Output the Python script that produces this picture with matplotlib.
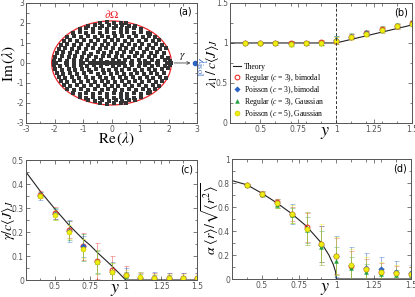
import numpy as np
import matplotlib
matplotlib.use('Agg')
import matplotlib.pyplot as plt
from matplotlib.patches import Circle
from matplotlib.ticker import MultipleLocator

plt.rcParams['font.family'] = ['DejaVu Sans']
plt.rcParams['mathtext.fontset'] = 'stix'
plt.rcParams['axes.unicode_minus'] = False

eig_upper = [
    (-2.03, 0.10), (-1.81, 0.15), (-1.57, 0.08), (-1.33, 0.14), (-1.08, 0.11), (-0.85, 0.16), (-0.61, 0.09),
    (-0.38, 0.13), (-0.17, 0.07), (0.06, 0.15), (0.27, 0.10), (0.49, 0.14), (0.72, 0.08), (0.95, 0.13),
    (1.18, 0.10), (1.42, 0.16), (1.64, 0.09), (1.86, 0.13), (2.04, 0.08),
    (-1.98, 0.30), (-1.74, 0.35), (-1.50, 0.28), (-1.27, 0.34), (-1.02, 0.31), (-0.79, 0.36), (-0.55, 0.29),
    (-0.31, 0.33), (-0.09, 0.37), (0.14, 0.30), (0.37, 0.35), (0.60, 0.28), (0.83, 0.33), (1.06, 0.36),
    (1.30, 0.29), (1.53, 0.34), (1.77, 0.31), (1.99, 0.27),
    (-1.93, 0.50), (-1.69, 0.55), (-1.44, 0.49), (-1.21, 0.56), (-0.97, 0.51), (-0.73, 0.47), (-0.49, 0.54),
    (-0.26, 0.50), (-0.02, 0.56), (0.21, 0.49), (0.44, 0.53), (0.68, 0.57), (0.91, 0.50), (1.14, 0.54),
    (1.38, 0.48), (1.61, 0.55), (1.85, 0.51),
    (-1.86, 0.70), (-1.62, 0.75), (-1.38, 0.69), (-1.14, 0.74), (-0.90, 0.71), (-0.66, 0.77), (-0.42, 0.68),
    (-0.19, 0.73), (0.05, 0.76), (0.29, 0.70), (0.52, 0.74), (0.76, 0.68), (0.99, 0.75), (1.23, 0.71),
    (1.47, 0.76), (1.70, 0.69), (1.90, 0.73),
    (-1.79, 0.90), (-1.55, 0.95), (-1.31, 0.89), (-1.07, 0.94), (-0.83, 0.91), (-0.59, 0.97), (-0.35, 0.88),
    (-0.11, 0.93), (0.13, 0.96), (0.37, 0.90), (0.60, 0.94), (0.84, 0.88), (1.08, 0.95), (1.32, 0.91),
    (1.56, 0.96), (1.78, 0.89),
    (-1.68, 1.10), (-1.44, 1.15), (-1.20, 1.09), (-0.96, 1.14), (-0.72, 1.11), (-0.48, 1.16), (-0.24, 1.08),
    (0.00, 1.13), (0.24, 1.16), (0.48, 1.10), (0.72, 1.14), (0.96, 1.08), (1.20, 1.15), (1.44, 1.11),
    (1.66, 1.14),
    (-1.55, 1.30), (-1.31, 1.35), (-1.07, 1.29), (-0.83, 1.34), (-0.59, 1.31), (-0.35, 1.36), (-0.11, 1.28),
    (0.13, 1.33), (0.37, 1.36), (0.61, 1.30), (0.85, 1.34), (1.09, 1.28), (1.33, 1.35), (1.54, 1.31),
    (-1.36, 1.50), (-1.12, 1.55), (-0.88, 1.49), (-0.64, 1.54), (-0.40, 1.51), (-0.16, 1.56), (0.08, 1.48),
    (0.32, 1.53), (0.56, 1.56), (0.80, 1.50), (1.04, 1.54), (1.28, 1.49), (1.36, 1.47),
    (-1.12, 1.70), (-0.88, 1.75), (-0.64, 1.69), (-0.40, 1.74), (-0.16, 1.71), (0.08, 1.76), (0.32, 1.68),
    (0.56, 1.73), (0.80, 1.76), (1.04, 1.70),
    (-0.82, 1.86), (-0.58, 1.90), (-0.34, 1.85), (-0.10, 1.91), (0.14, 1.87), (0.38, 1.92), (0.62, 1.86),
    (0.84, 1.84),
    (-0.40, 2.00), (-0.16, 2.04), (0.10, 1.99), (0.34, 2.02), (0.50, 1.98),
]
eig_real = [-1.95, -1.6, -1.3, -1.0, -0.75, -0.5, -0.38, -0.27, -0.18, -0.1, -0.03, 0.04, 0.11, 0.19,
            0.3, 0.45, 0.7, 1.0, 1.3, 1.6, 1.95, 2.08]
edge_radius = 2.1
lam_isol = 2.92

# panels (b)-(d)
y_vals = [0.4, 0.5, 0.6, 0.7, 0.8, 0.9, 1.0, 1.1, 1.2, 1.3, 1.4, 1.5]

theory_b_y = [0.3, 1.0, 1.5]
theory_b = [1.0, 1.0, 1.225]
theory_c_y = [0.3, 0.4, 0.5, 0.6, 0.7, 0.75, 0.8, 0.9, 1.0, 1.5]
theory_c = [0.45, 0.37, 0.298, 0.23, 0.17, 0.145, 0.115, 0.06, 0.0, 0.0]
theory_d_y = [0.3, 0.4, 0.5, 0.6, 0.7, 0.8, 0.9, 0.95, 0.98, 0.995, 1.0, 1.5]
theory_d = [0.82, 0.785, 0.715, 0.635, 0.545, 0.44, 0.30, 0.20, 0.12, 0.06, 0.0, 0.0]

b_rb = [1.0, 1.0, 1.0, 1.0, 1.0, 1.01, 1.03, 1.08, 1.12, 1.17, 1.21, 1.25]
b_pb = [1.0, 1.0, 1.0, 0.99, 1.0, 1.0, 1.04, 1.08, 1.12, 1.16, 1.21, 1.24]
b_rg = [1.0, 1.0, 1.0, 1.0, 1.0, 1.0, 1.05, 1.09, 1.13, 1.18, 1.22, 1.26]
b_pg = [1.0, 1.0, 1.0, 0.99, 1.0, 1.0, 1.03, 1.07, 1.11, 1.16, 1.21, 1.24]
b_err_rb = [0.01, 0.01, 0.02, 0.03, 0.03, 0.03, 0.04, 0.03, 0.03, 0.03, 0.03, 0.03]
b_err_pb = [0.01, 0.01, 0.02, 0.03, 0.03, 0.03, 0.05, 0.03, 0.03, 0.03, 0.03, 0.03]
b_err_rg = [0.01, 0.01, 0.02, 0.02, 0.03, 0.03, 0.04, 0.03, 0.03, 0.03, 0.03, 0.03]
b_err_pg = [0.01, 0.01, 0.03, 0.04, 0.03, 0.04, 0.04, 0.03, 0.03, 0.04, 0.03, 0.03]

c_rb = [0.355, 0.28, 0.21, 0.14, 0.08, 0.04, 0.02, 0.01, 0.008, 0.008, 0.008, 0.01]
c_pb = [0.35, 0.275, 0.205, 0.14, 0.075, 0.035, 0.02, 0.01, 0.008, 0.008, 0.008, 0.008]
c_rg = [0.355, 0.275, 0.205, 0.135, 0.075, 0.035, 0.015, 0.008, 0.006, 0.006, 0.006, 0.006]
c_pg = [0.35, 0.27, 0.2, 0.13, 0.075, 0.035, 0.02, 0.012, 0.01, 0.01, 0.01, 0.01]
c_err_rb = [0.015, 0.025, 0.035, 0.055, 0.075, 0.06, 0.04, 0.02, 0.02, 0.02, 0.02, 0.02]
c_err_pb = [0.015, 0.02, 0.045, 0.045, 0.05, 0.04, 0.03, 0.025, 0.025, 0.02, 0.02, 0.02]
c_err_rg = [0.01, 0.025, 0.04, 0.055, 0.045, 0.035, 0.02, 0.015, 0.015, 0.015, 0.01, 0.01]
c_err_pg = [0.01, 0.02, 0.03, 0.04, 0.05, 0.035, 0.02, 0.02, 0.015, 0.015, 0.015, 0.015]

d_rb = [0.78, 0.71, 0.64, 0.54, 0.43, 0.29, 0.19, 0.11, 0.08, 0.06, 0.05, 0.04]
d_pb = [0.78, 0.71, 0.63, 0.54, 0.42, 0.28, 0.19, 0.12, 0.09, 0.08, 0.06, 0.05]
d_rg = [0.78, 0.705, 0.62, 0.53, 0.41, 0.27, 0.15, 0.09, 0.055, 0.045, 0.035, 0.03]
d_pg = [0.78, 0.71, 0.63, 0.54, 0.42, 0.29, 0.19, 0.12, 0.08, 0.06, 0.05, 0.04]
d_err_rb = [0.01, 0.02, 0.03, 0.06, 0.12, 0.15, 0.15, 0.12, 0.09, 0.07, 0.06, 0.06]
d_err_pb = [0.01, 0.02, 0.04, 0.085, 0.14, 0.16, 0.17, 0.15, 0.13, 0.1, 0.09, 0.07]
d_err_rg = [0.01, 0.02, 0.03, 0.06, 0.11, 0.13, 0.12, 0.09, 0.07, 0.05, 0.04, 0.04]
d_err_pg = [0.01, 0.02, 0.04, 0.075, 0.14, 0.17, 0.16, 0.13, 0.1, 0.08, 0.07, 0.06]

series_labels = ['Regular ($c$ = 3), bimodal', 'Poisson ($c$ = 3), bimodal',
                 'Regular ($c$ = 3), Gaussian', 'Poisson ($c$ = 5), Gaussian']
colors = ['#e8302a', '#2a63c4', '#1f9e3c', '#eeee10']
markers = ['o', 'D', '^', 'o']

tick_col = '#555555'

fig = plt.figure(figsize=(4.15, 2.97), dpi=100)
ax_a = fig.add_axes([0.0627, 0.586, 0.412, 0.404])
ax_b = fig.add_axes([0.554, 0.586, 0.4386, 0.404])
ax_c = fig.add_axes([0.0627, 0.0572, 0.412, 0.404])
ax_d = fig.add_axes([0.559, 0.0606, 0.431, 0.404])


def style(ax):
    ax.tick_params(which='both', direction='in', top=True, right=True, labelsize=5.5,
                   labelcolor=tick_col, color='#666666', width=0.6, pad=1.5)
    ax.tick_params(which='major', length=3)
    ax.tick_params(which='minor', length=1.8)
    for s in ax.spines.values():
        s.set_color('#555555')
        s.set_linewidth(0.7)


def place_ylabel(ax, text, xfrac, size=10):
    ax.set_ylabel(text, fontsize=size)
    ax.yaxis.set_label_coords(xfrac, 0.5)
    ax.yaxis.label.set_verticalalignment('center')


# (a)
re_up = np.array([p[0] for p in eig_upper])
im_up = np.array([p[1] for p in eig_upper])
re_all = np.concatenate([re_up, re_up, eig_real])
im_all = np.concatenate([im_up, -im_up, np.zeros(len(eig_real))])
ax_a.plot(re_all, im_all, 's', color='#333333', ms=2.3, mew=0)
ax_a.add_patch(Circle((0, 0), edge_radius, fill=False, ec='#e8252a', lw=0.9))
ax_a.annotate('', xy=(lam_isol - 0.05, 0), xytext=(edge_radius, 0),
              arrowprops=dict(arrowstyle='->', color='#444444', lw=0.6, mutation_scale=5))
ax_a.plot([lam_isol], [0], 'o', color='#2a63c4', ms=3.0)
ax_a.text(2.5, 0.3, r'$\gamma$', fontsize=8, ha='center', va='center')
ax_a.text(3.14, -0.2, r'$\lambda_{\rm isol}$', fontsize=8.5, color='#2a63c4', rotation=-90,
          ha='center', va='center')
ax_a.text(0.0, 2.45, r'$\partial\Omega$', fontsize=8, color='#e8252a', ha='center', va='center')
ax_a.text(0.93, 0.93, '(a)', transform=ax_a.transAxes, fontsize=7, ha='center', va='center')
ax_a.set_xlim(-3, 3)
ax_a.set_ylim(-3, 3)
ax_a.set_xticks(range(-3, 4))
ax_a.set_yticks(range(-3, 4))
ax_a.xaxis.set_minor_locator(MultipleLocator(0.5))
ax_a.yaxis.set_minor_locator(MultipleLocator(0.5))
ax_a.set_xlabel(r'$\mathrm{Re}\,(\lambda)$', fontsize=11)
ax_a.xaxis.set_label_coords(0.53, -0.06)
place_ylabel(ax_a, r'$\mathrm{Im}\,(\lambda)$', -0.1, 11)
style(ax_a)


def data_panel(ax, ty, tv, vals, errs, ylim, ymaj, ymin, ylabel, lab_x, tag, ylabels):
    th, = ax.plot(ty, tv, '-', color='#222222', lw=0.8)
    handles = [th]
    for v, e, c in zip(vals, errs, colors):
        ax.errorbar(y_vals, v, yerr=e, fmt='none', ecolor=c, alpha=0.45, capsize=1.8,
                    elinewidth=0.7, capthick=0.6)
    for i, (v, c, m) in enumerate(zip(vals, colors, markers)):
        if i == 0:
            h, = ax.plot(y_vals, v, m, ms=3.4, mfc='none', mec=c, mew=0.8, ls='none')
        elif i == 3:
            h, = ax.plot(y_vals, v, m, ms=3.6, mfc=c, mec='#c8c000', mew=0.4, ls='none')
        else:
            h, = ax.plot(y_vals, v, m, ms=2.8, mfc=c, mec=c, mew=0.3, ls='none')
        handles.append(h)
    ax.set_xlim(0.3, 1.5)
    ax.set_ylim(*ylim)
    ax.set_xticks([0.5, 0.75, 1.0, 1.25, 1.5])
    ax.set_xticklabels(['0.5', '0.75', '1', '1.25', '1.5'])
    ax.xaxis.set_minor_locator(MultipleLocator(0.1))
    ax.set_yticks(ymaj)
    ax.set_yticklabels(ylabels)
    ax.yaxis.set_minor_locator(MultipleLocator(ymin))
    place_ylabel(ax, ylabel, lab_x)
    ax.text(0.52, -0.075, r'$y$', transform=ax.transAxes, fontsize=13, ha='center', va='center')
    ax.text(0.94, 0.92, tag, transform=ax.transAxes, fontsize=7, ha='center', va='center')
    style(ax)
    return handles


hb = data_panel(ax_b, theory_b_y, theory_b, [b_rb, b_pb, b_rg, b_pg],
                [b_err_rb, b_err_pb, b_err_rg, b_err_pg], (0, 1.5), [0, 0.5, 1.0, 1.5], 0.25,
                r'$\lambda_1\,/\,c\langle J\rangle_J$', -0.095, '(b)', ['0', '0.5', '1', '1.5'])
ax_b.axvline(1.0, color='#333333', ls='--', lw=0.7, dashes=(3, 2))
ax_b.legend(hb, ['Theory'] + series_labels, loc='lower left', frameon=False,
            prop={'family': 'Liberation Serif', 'size': 5.5}, labelspacing=0.05,
            handlelength=1.0, handletextpad=0.4, borderpad=0.2, borderaxespad=0.2)

data_panel(ax_c, theory_c_y, theory_c, [c_rb, c_pb, c_rg, c_pg],
           [c_err_rb, c_err_pb, c_err_rg, c_err_pg], (0, 0.5), [0, 0.1, 0.2, 0.3, 0.4, 0.5], 0.05,
           r'$\gamma/c\langle J\rangle_J$', -0.105, '(c)', ['0', '0.1', '0.2', '0.3', '0.4', '0.5'])

data_panel(ax_d, theory_d_y, theory_d, [d_rb, d_pb, d_rg, d_pg],
           [d_err_rb, d_err_pb, d_err_rg, d_err_pg], (0, 1.0), [0, 0.2, 0.4, 0.6, 0.8, 1.0], 0.1,
           r'$\alpha\ \langle r\rangle/\sqrt{\langle r^2\rangle}$', -0.12, '(d)',
           ['0', '0.2', '0.4', '0.6', '0.8', '1'])

fig.savefig('out.png', dpi=100)
